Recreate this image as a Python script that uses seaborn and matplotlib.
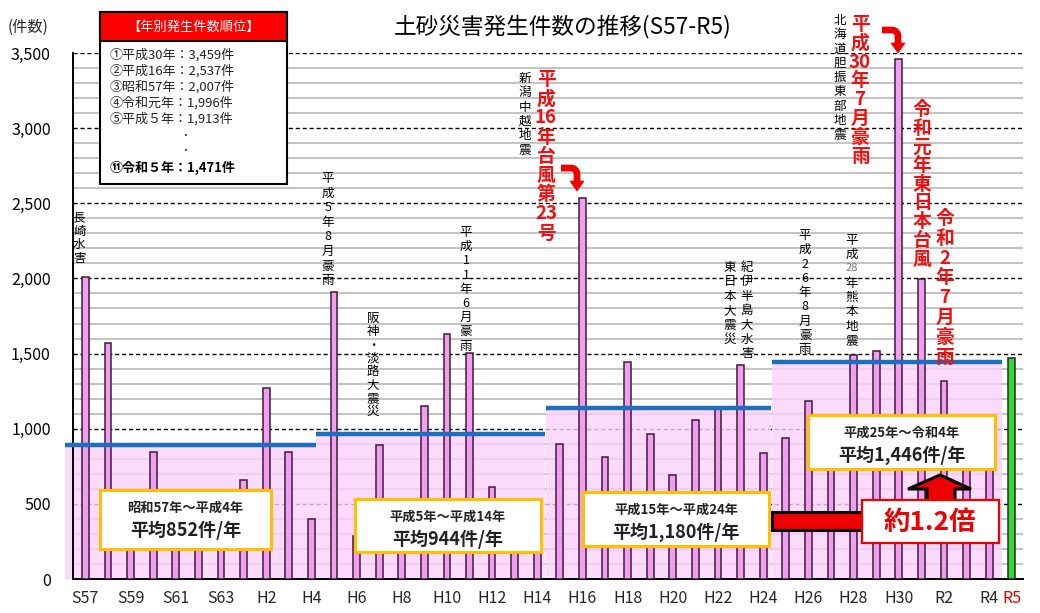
import numpy as np
import pandas as pd
import matplotlib
matplotlib.use("Agg")
import matplotlib.pyplot as plt
import seaborn as sns
from matplotlib.patches import Rectangle, Polygon
from matplotlib.lines import Line2D
from matplotlib.ticker import FuncFormatter, MultipleLocator

# ---------------- data ----------------
years = (["S57", "S58", "S59", "S60", "S61", "S62", "S63"]
         + [f"H{i}" for i in range(1, 31)]
         + ["R1", "R2", "R3", "R4", "R5"])
counts = [2007, 1569, 430, 846, 500, 420, 427, 658, 1270, 845, 401,
          1913, 286, 891, 470, 1154, 1627, 1501, 609, 518, 475,
          895, 2537, 813, 1441, 966, 695, 1058, 1128, 1422, 837,
          941, 1184, 788, 1492, 1514, 3459, 1996, 1319, 972, 795,
          1471]
period_labels = ["昭和57年～平成4年", "平成5年～平成14年", "平成15年～平成24年", "平成25年～令和4年"]
period_avg_text = ["平均852件/年", "平均944件/年", "平均1,180件/年", "平均1,446件/年"]
period_level = [893, 965, 1138, 1447]          # drawn height of the average lines
period_span = [(-0.9, 10.2), (10.22, 20.35), (20.37, 30.35), (30.37, 40.55)]
tick_labels_shown = ["S57", "S59", "S61", "S63", "H2", "H4", "H6", "H8", "H10", "H12",
                     "H14", "H16", "H18", "H20", "H22", "H24", "H26", "H28", "H30",
                     "R2", "R4", "R5"]
ranking = ["①平成30年：3,459件", "②平成16年：2,537件", "③昭和57年：2,007件",
           "④令和元年：1,996件", "⑤平成５年：1,913件"]
ranking_last = "⑪令和５年：1,471件"

W, H = 1040, 613
sns.set_theme(style="white")
plt.rcParams['font.family'] = ['Noto Sans CJK JP', 'DejaVu Sans']

fig = plt.figure(figsize=(W / 100, H / 100), dpi=100)
ax = fig.add_axes([73 / W, 1 - 579 / H, (1023 - 73) / W, (579 - 53) / H])

df = pd.DataFrame({"year": years, "count": counts})
pal = {y: "#F39DF0" for y in years}
pal["R5"] = "#2EDC2E"
sns.barplot(data=df, x="year", y="count", hue="year", palette=pal, legend=False,
            width=0.3, edgecolor="#3A1C3A", linewidth=1.1, saturation=1, ax=ax, zorder=3)

ax.set_xlim(-0.55, 41.5)
ax.set_ylim(0, 3500)
ax.set_xlabel("")
ax.set_ylabel("")

# grid
ax.yaxis.set_major_locator(MultipleLocator(500))
ax.yaxis.set_minor_locator(MultipleLocator(100))
ax.grid(False)
ax.grid(which="minor", axis="y", color="#C4C4C4", linewidth=1.5, linestyle="-", zorder=0)
ax.grid(which="major", axis="y", color="black", linewidth=1.0, linestyle=(0, (3, 2)), zorder=0.5)
ax.set_axisbelow(True)
ax.yaxis.set_major_formatter(FuncFormatter(lambda v, p: f"{int(v):,}"))
ax.tick_params(axis="y", which="major", direction="out", length=8, width=1, pad=8,
               labelsize=11.5, colors="black")
ax.tick_params(axis="y", which="minor", length=0)

pos = [years.index(t) for t in tick_labels_shown]
ax.set_xticks(pos)
ax.set_xticklabels(tick_labels_shown)
ax.set_xticks(np.arange(-0.5, 41.6, 1), minor=True)
ax.tick_params(axis="x", which="major", length=0, pad=8, labelsize=11.5)
ax.tick_params(axis="x", which="minor", direction="in", length=4, width=1, color="black")
for lab in ax.get_xticklabels():
    if lab.get_text() == "R5":
        lab.set_color("#E00000")

for s in ["top", "right"]:
    ax.spines[s].set_visible(False)
for s in ["left", "bottom"]:
    ax.spines[s].set_color("black")
    ax.spines[s].set_linewidth(1.4)

# pink period areas and blue average lines
for (x0, x1), lv in zip(period_span, period_level):
    ax.fill_between([x0, x1], 0, lv, color="#FBD1FB", alpha=0.8, linewidth=0,
                    zorder=1, clip_on=False)
    ax.plot([x0, x1], [lv, lv], color="#1E6EBE", linewidth=3.2, solid_capstyle="butt",
            zorder=4, clip_on=False)


# ---------------- figure-level helpers (pixel layout) ----------------
def fx(x):
    return x / W


def fy(y):
    return 1 - y / H


def rect(x0, y0, x1, y1, fc, ec, lw, z=5):
    fig.add_artist(Rectangle((fx(x0), fy(y1)), fx(x1) - fx(x0), fy(y0) - fy(y1),
                             transform=fig.transFigure, facecolor=fc, edgecolor=ec,
                             linewidth=lw, zorder=z))


def vtext(x, y0, tokens, step, size, color="black", weight="normal", special=None):
    for i, t in enumerate(tokens):
        c, s = color, size
        if special and t in special:
            c, s = special[t]
        fig.text(fx(x), fy(y0 + i * step), t, ha="center", va="top", fontsize=s,
                 color=c, fontweight=weight, zorder=6)


def curved_arrow(x0, y0, xs, ytip, color="#EE0000"):
    r = 6
    th = np.linspace(np.pi / 2, 0, 12)
    cx, cy = xs - r, y0 + r
    xs_arc = cx + r * np.cos(th)
    ys_arc = cy - r * np.sin(th)
    px = [x0] + list(xs_arc) + [xs]
    py = [y0] + list(ys_arc) + [ytip - 9]
    fig.add_artist(Line2D([fx(v) for v in px], [fy(v) for v in py], transform=fig.transFigure,
                          color=color, linewidth=4.8, solid_capstyle="butt",
                          solid_joinstyle="round", zorder=6))
    head = [(xs - 7, ytip - 10), (xs + 7, ytip - 10), (xs, ytip)]
    fig.add_artist(Polygon([(fx(a), fy(b)) for a, b in head], closed=True,
                           transform=fig.transFigure, facecolor=color, edgecolor=color,
                           linewidth=0.5, zorder=6))


# title & unit
fig.text(fx(563), fy(26), "土砂災害発生件数の推移(S57-R5)", ha="center", va="center",
         fontsize=16.3, color="black")
fig.text(fx(8), fy(27), "(件数)", ha="left", va="center", fontsize=11)

# ranking box
rect(100, 12, 287, 184, "white", "black", 1.5, z=5)
rect(100, 12, 287, 41, "#FF0000", "black", 1.5, z=5)
fig.text(fx(193), fy(27), "【年別発生件数順位】", ha="center", va="center", fontsize=9.5,
         color="white", zorder=6)
for i, r in enumerate(ranking):
    fig.text(fx(110), fy(55 + i * 16), r, ha="left", va="center", fontsize=9.4,
             color="#222222", zorder=6)
fig.text(fx(185), fy(136), "・", ha="center", va="center", fontsize=7, zorder=6)
fig.text(fx(185), fy(151), "・", ha="center", va="center", fontsize=7, zorder=6)
fig.text(fx(110), fy(168), ranking_last, ha="left", va="center", fontsize=9.4,
         color="black", fontweight="bold", zorder=6)

# period boxes
boxes = [(100, 490, 271, 549), (355, 499, 541, 552), (583, 492, 769, 546), (808, 415, 995, 469)]
for (x0, y0, x1, y1), t1, t2 in zip(boxes, period_labels, period_avg_text):
    rect(x0, y0, x1, y1, "white", "#FFC000", 2.2, z=5)
    cx = (x0 + x1) / 2
    fig.text(fx(cx), fy(y0 + 18), t1, ha="center", va="center", fontsize=9.5,
             fontweight="bold", color="#222222", zorder=6)
    fig.text(fx(cx), fy(y0 + 40), t2, ha="center", va="center", fontsize=13,
             fontweight="bold", color="#222222", zorder=6)

# 約1.2倍 arrows and box
rect(772, 512, 866, 530, "#EE0000", "black", 2.2, z=5)
up = [(927, 502), (927, 489), (908, 489), (940, 475), (971, 489), (955, 489), (955, 502)]
fig.add_artist(Polygon([(fx(a), fy(b)) for a, b in up], closed=True, transform=fig.transFigure,
                       facecolor="#EE0000", edgecolor="black", linewidth=2.2, zorder=5))
rect(862, 500, 999, 543, "white", "#EE0000", 1.6, z=5.5)
fig.text(fx(930), fy(522), "約1.2倍", ha="center", va="center", fontsize=19,
         fontweight="bold", color="#EE0000", zorder=6)

# event annotations (vertical text)
vtext(79, 211, list("長崎水害"), 13.5, 9)
vtext(328, 172, list("平成5年8月豪雨"), 14.6, 9)
vtext(373, 312, list("阪神・淡路大震災"), 13.3, 9)
vtext(466, 226, list("平成11年6月豪雨"), 14.2, 9)
vtext(525, 72, list("新潟中越地震"), 14.3, 9)
vtext(730, 261, list("東日本大震災"), 14.3, 9)
vtext(747, 261, list("紀伊半島大水害"), 14.3, 9)
vtext(805, 229, list("平成26年8月豪雨"), 14.3, 9)
vtext(852, 234, ["平", "成", "28", "年", "熊", "本", "地", "震"], 14.3, 9,
      special={"28": ("#777777", 8)})
vtext(840, 14, list("北海道胆振東部地震"), 14.3, 9)

red = "#EE1111"
vtext(546, 70, ["平", "成", "16", "年", "台", "風", "第", "23", "号"], 19.2, 13.5,
      color=red, weight="bold")
vtext(860, 15, ["平", "成", "30", "年", "7", "月", "豪", "雨"], 18.8, 13.5,
      color=red, weight="bold")
vtext(922, 100, list("令和元年東日本台風"), 18.7, 13.5, color=red, weight="bold")
vtext(945, 209, list("令和2年7月豪雨"), 19.8, 13.5, color=red, weight="bold")

# curved red arrows pointing at the peak years
curved_arrow(561, 168, 577, 191)
curved_arrow(882, 30, 898, 53)

fig.savefig("out.png", dpi=100)
